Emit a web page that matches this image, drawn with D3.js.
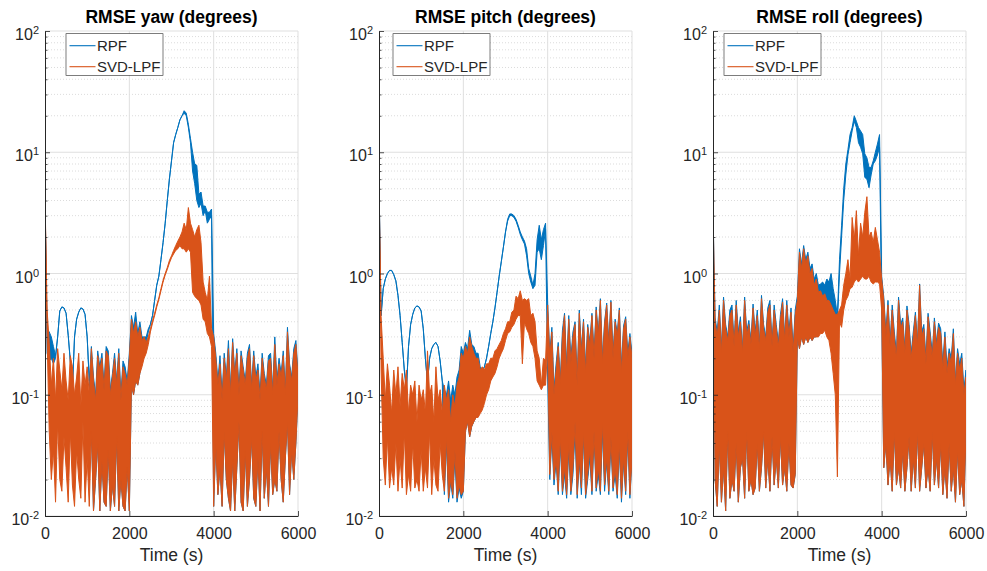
<!DOCTYPE html>
<html>
<head>
<meta charset="utf-8">
<script src="https://cdn.jsdelivr.net/npm/d3@7"></script>
<style>
body { margin: 0; background: #fff; }
text { font-family: "Liberation Sans", Arial, Helvetica, sans-serif; fill: #262626; }
</style>
</head>
<body>
<script>
// sample times (s), one pair of values every 50 s
var times = d3.range(0, 6001, 50);

var titles = ["RMSE yaw (degrees)", "RMSE pitch (degrees)", "RMSE roll (degrees)"];
var seriesNames = ["RPF", "SVD-LPF"];
var colors = ["#0072BD", "#D95319"];
var xTicks = [0, 2000, 4000, 6000];
var yTicks = [0.01, 0.1, 1, 10, 100];
var yTickExp = ["-2", "-1", "0", "1", "2"];

// upper and lower edge of each (noisy) trace, 500 s per row
var yawRPFHi = [
  4.3, 0.35, 0.33, 0.3, 0.25, 0.21, 0.3, 0.49, 0.53, 0.52,
  0.47, 0.31, 0.19, 0.11, 0.3, 0.42, 0.48, 0.52, 0.51, 0.46,
  0.3, 0.13, 0.25, 0.14, 0.1, 0.23, 0.17, 0.22, 0.12, 0.25,
  0.23, 0.11, 0.15, 0.22, 0.13, 0.24, 0.1, 0.19, 0.17, 0.13,
  0.22, 0.45, 0.36, 0.48, 0.32, 0.4, 0.3, 0.3, 0.3, 0.35,
  0.38, 0.45, 0.6, 0.8, 0.95, 1.3, 1.8, 2.6, 4.0, 6.0,
  8.5, 12, 14, 16, 18.5, 20, 22, 21, 17, 13,
  10, 8, 7.8, 4.5, 4.7, 3.6, 3.6, 3.2, 3.2, 3.4,
  0.32, 0.22, 0.13, 0.21, 0.1, 0.22, 0.14, 0.28, 0.11, 0.29,
  0.15, 0.24, 0.11, 0.23, 0.17, 0.13, 0.22, 0.26, 0.12, 0.23,
  0.14, 0.18, 0.1, 0.22, 0.15, 0.12, 0.21, 0.22, 0.11, 0.3,
  0.13, 0.2, 0.15, 0.23, 0.11, 0.36, 0.18, 0.14, 0.24, 0.28,
  0.15
];
var yawRPFLo = [
  4.3, 0.22, 0.19, 0.2, 0.18, 0.2, 0.3, 0.49, 0.53, 0.52,
  0.47, 0.31, 0.19, 0.11, 0.3, 0.42, 0.48, 0.52, 0.51, 0.46,
  0.3, 0.13, 0.05, 0.011, 0.02, 0.04, 0.011, 0.028, 0.013, 0.012,
  0.035, 0.011, 0.018, 0.012, 0.045, 0.011, 0.02, 0.012, 0.011, 0.025,
  0.011, 0.12, 0.1, 0.13, 0.12, 0.15, 0.2, 0.24, 0.27, 0.33,
  0.38, 0.45, 0.6, 0.8, 0.95, 1.3, 1.8, 2.6, 4.0, 6.0,
  8.5, 12, 14, 16, 18.5, 20, 21, 20, 16, 12,
  7, 5.5, 4, 3.5, 3.8, 3.0, 3.3, 2.6, 2.8, 3.0,
  0.012, 0.04, 0.015, 0.025, 0.012, 0.05, 0.02, 0.014, 0.011, 0.03,
  0.011, 0.025, 0.06, 0.013, 0.011, 0.035, 0.012, 0.02, 0.045, 0.014,
  0.012, 0.03, 0.011, 0.05, 0.014, 0.025, 0.012, 0.04, 0.015, 0.02,
  0.016, 0.05, 0.02, 0.013, 0.03, 0.06, 0.015, 0.035, 0.02, 0.04,
  0.1
];
var yawSVDHi = [
  4.3, 0.5, 0.27, 0.12, 0.2, 0.09, 0.24, 0.16, 0.11, 0.22,
  0.13, 0.09, 0.21, 0.17, 0.1, 0.14, 0.22, 0.08, 0.19, 0.12,
  0.17, 0.1, 0.24, 0.13, 0.09, 0.21, 0.16, 0.2, 0.11, 0.23,
  0.21, 0.1, 0.14, 0.2, 0.12, 0.22, 0.09, 0.17, 0.15, 0.12,
  0.2, 0.42, 0.32, 0.4, 0.3, 0.36, 0.28, 0.3, 0.27, 0.3,
  0.35, 0.41, 0.47, 0.55, 0.63, 0.75, 0.88, 1.0, 1.12, 1.28,
  1.4, 1.55, 1.7, 1.85, 2.0, 2.2, 2.6, 2.3, 3.5, 2.6,
  2.3, 2.0, 2.3, 2.5, 1.8, 0.85, 0.7, 0.6, 0.95, 0.35,
  0.3, 0.2, 0.12, 0.18, 0.09, 0.2, 0.13, 0.24, 0.1, 0.27,
  0.14, 0.22, 0.1, 0.21, 0.16, 0.12, 0.2, 0.24, 0.11, 0.21,
  0.13, 0.16, 0.09, 0.2, 0.14, 0.11, 0.19, 0.2, 0.1, 0.26,
  0.12, 0.18, 0.14, 0.21, 0.1, 0.33, 0.17, 0.13, 0.22, 0.26,
  0.14
];
var yawSVDLo = [
  4.3, 0.3, 0.05, 0.02, 0.035, 0.013, 0.06, 0.02, 0.016, 0.045,
  0.025, 0.013, 0.05, 0.018, 0.012, 0.035, 0.02, 0.014, 0.06, 0.013,
  0.03, 0.012, 0.05, 0.011, 0.02, 0.04, 0.011, 0.028, 0.013, 0.012,
  0.035, 0.011, 0.018, 0.012, 0.045, 0.011, 0.02, 0.012, 0.011, 0.025,
  0.011, 0.12, 0.1, 0.13, 0.12, 0.15, 0.17, 0.2, 0.22, 0.26,
  0.33, 0.39, 0.45, 0.53, 0.61, 0.72, 0.85, 0.97, 1.08, 1.22,
  1.35, 1.45, 1.55, 1.6, 1.7, 1.6, 1.6, 1.5, 1.6, 1.5,
  0.7, 0.65, 0.62, 0.6, 0.55, 0.42, 0.4, 0.32, 0.3, 0.25,
  0.012, 0.04, 0.015, 0.025, 0.012, 0.05, 0.02, 0.014, 0.011, 0.03,
  0.011, 0.025, 0.06, 0.013, 0.011, 0.035, 0.012, 0.02, 0.045, 0.014,
  0.012, 0.03, 0.011, 0.05, 0.014, 0.025, 0.012, 0.04, 0.015, 0.02,
  0.016, 0.05, 0.02, 0.013, 0.03, 0.06, 0.015, 0.035, 0.02, 0.04,
  0.1
];

var pitchRPFHi = [
  5.7, 0.45, 0.75, 0.9, 1.0, 1.06, 1.06, 0.98, 0.87, 0.66,
  0.45, 0.27, 0.16, 0.11, 0.25, 0.38, 0.46, 0.52, 0.54, 0.53,
  0.49, 0.35, 0.2, 0.125, 0.2, 0.24, 0.26, 0.27, 0.25, 0.19,
  0.13, 0.11, 0.1, 0.13, 0.09, 0.12, 0.1, 0.14, 0.16, 0.25,
  0.22, 0.27, 0.24, 0.34, 0.26, 0.25, 0.22, 0.22, 0.17, 0.16,
  0.17, 0.2, 0.25, 0.32, 0.4, 0.52, 0.7, 0.95, 1.25, 1.65,
  2.2, 2.8, 3.1, 3.1, 3.0, 2.8, 2.5, 2.2, 2.0, 1.85,
  1.6, 1.1, 0.95, 0.8, 1.0, 1.9, 2.5, 1.9, 2.3, 2.6,
  0.57, 0.22, 0.36, 0.11, 0.18, 0.27, 0.13, 0.34, 0.47, 0.17,
  0.45, 0.2, 0.33, 0.4, 0.13, 0.5, 0.24, 0.42, 0.17, 0.38,
  0.27, 0.47, 0.22, 0.53, 0.32, 0.62, 0.2, 0.4, 0.57, 0.27,
  0.6, 0.22, 0.42, 0.32, 0.52, 0.17, 0.37, 0.44, 0.22, 0.32,
  0.22
];
var pitchRPFLo = [
  5.7, 0.45, 0.75, 0.9, 1.0, 1.06, 1.06, 0.98, 0.87, 0.66,
  0.45, 0.27, 0.16, 0.11, 0.25, 0.38, 0.46, 0.52, 0.54, 0.53,
  0.49, 0.35, 0.2, 0.125, 0.2, 0.24, 0.26, 0.27, 0.25, 0.19,
  0.13, 0.015, 0.04, 0.013, 0.019, 0.014, 0.03, 0.013, 0.017, 0.014,
  0.016, 0.05, 0.06, 0.045, 0.055, 0.06, 0.065, 0.1, 0.15, 0.15,
  0.17, 0.2, 0.25, 0.32, 0.4, 0.52, 0.7, 0.95, 1.25, 1.65,
  2.2, 2.7, 3.0, 3.0, 2.9, 2.7, 2.4, 2.1, 1.9, 1.75,
  1.4, 1.0, 0.85, 0.75, 0.8, 1.5, 1.6, 1.3, 1.7, 2.3,
  0.14, 0.02, 0.045, 0.018, 0.028, 0.015, 0.04, 0.015, 0.022, 0.014,
  0.035, 0.015, 0.022, 0.05, 0.014, 0.028, 0.015, 0.045, 0.014, 0.02,
  0.03, 0.015, 0.045, 0.016, 0.022, 0.015, 0.05, 0.016, 0.028, 0.015,
  0.04, 0.016, 0.022, 0.014, 0.035, 0.013, 0.028, 0.015, 0.045, 0.014,
  0.03
];
var pitchSVDHi = [
  5.7, 0.44, 0.2, 0.09, 0.18, 0.12, 0.07, 0.16, 0.1, 0.17,
  0.08, 0.15, 0.11, 0.16, 0.07, 0.12, 0.1, 0.13, 0.06, 0.12,
  0.09, 0.11, 0.07, 0.23, 0.1, 0.12, 0.06, 0.17, 0.09, 0.11,
  0.07, 0.12, 0.09, 0.11, 0.06, 0.1, 0.08, 0.12, 0.14, 0.22,
  0.2, 0.25, 0.22, 0.3, 0.25, 0.22, 0.2, 0.2, 0.16, 0.17,
  0.16, 0.18, 0.18, 0.2, 0.2, 0.23, 0.24, 0.26, 0.28, 0.32,
  0.35, 0.4, 0.4, 0.48, 0.5, 0.65, 0.62, 0.72, 0.6, 0.62,
  0.6, 0.62, 0.45, 0.47, 0.4, 0.23, 0.2, 0.12, 0.2, 0.19,
  0.55, 0.2, 0.33, 0.1, 0.16, 0.25, 0.12, 0.3, 0.45, 0.15,
  0.42, 0.18, 0.3, 0.38, 0.12, 0.47, 0.22, 0.4, 0.15, 0.36,
  0.25, 0.45, 0.2, 0.5, 0.3, 0.6, 0.18, 0.38, 0.55, 0.25,
  0.58, 0.2, 0.4, 0.3, 0.5, 0.15, 0.35, 0.42, 0.2, 0.3,
  0.2
];
var pitchSVDLo = [
  5.7, 0.16, 0.03, 0.018, 0.045, 0.017, 0.025, 0.018, 0.04, 0.016,
  0.03, 0.017, 0.05, 0.015, 0.022, 0.016, 0.04, 0.017, 0.02, 0.016,
  0.035, 0.016, 0.025, 0.017, 0.05, 0.015, 0.03, 0.018, 0.016, 0.04,
  0.022, 0.016, 0.045, 0.014, 0.02, 0.015, 0.035, 0.014, 0.018, 0.015,
  0.016, 0.05, 0.06, 0.045, 0.055, 0.06, 0.065, 0.065, 0.07, 0.075,
  0.085, 0.1, 0.11, 0.13, 0.14, 0.15, 0.17, 0.2, 0.22, 0.24,
  0.28, 0.32, 0.33, 0.36, 0.38, 0.42, 0.45, 0.45, 0.18, 0.4,
  0.35, 0.32, 0.27, 0.25, 0.2, 0.13, 0.12, 0.11, 0.12, 0.12,
  0.25, 0.022, 0.05, 0.02, 0.03, 0.016, 0.045, 0.016, 0.025, 0.015,
  0.04, 0.016, 0.025, 0.06, 0.015, 0.03, 0.017, 0.05, 0.015, 0.022,
  0.035, 0.016, 0.05, 0.017, 0.025, 0.016, 0.06, 0.018, 0.03, 0.016,
  0.045, 0.017, 0.025, 0.015, 0.04, 0.014, 0.03, 0.016, 0.05, 0.015,
  0.03
];

var rollRPFHi = [
  3.3, 0.43, 0.33, 0.55, 0.24, 0.64, 0.38, 0.3, 0.5, 0.55,
  0.27, 0.6, 0.33, 0.44, 0.24, 0.64, 0.33, 0.41, 0.28, 0.56,
  0.33, 0.5, 0.26, 0.66, 0.38, 0.3, 0.52, 0.6, 0.27, 0.55,
  0.38, 0.27, 0.46, 0.62, 0.3, 0.6, 0.33, 0.52, 0.24, 0.5,
  0.65, 1.6, 1.2, 1.7, 1.3, 1.5, 1.1, 1.2, 0.9, 1.0,
  0.8, 0.82, 0.85, 0.8, 0.9, 0.85, 1.0, 0.75, 0.6, 0.45,
  1.3, 2.5, 5.0, 8.0, 10.5, 14, 16, 20, 18, 16,
  15, 14, 9.7, 9, 7.5, 7.5, 8.5, 10, 11.7, 14,
  0.95, 0.64, 0.33, 0.6, 0.27, 0.55, 0.33, 0.22, 0.64, 0.38,
  0.43, 0.24, 0.54, 0.38, 0.22, 0.33, 0.48, 0.27, 0.82, 0.33,
  0.38, 0.2, 0.47, 0.33, 0.22, 0.43, 0.27, 0.39, 0.35, 0.18,
  0.33, 0.17, 0.24, 0.2, 0.35, 0.13, 0.24, 0.18, 0.22, 0.11,
  0.16
];
var rollRPFLo = [
  3.3, 0.02, 0.012, 0.04, 0.013, 0.025, 0.011, 0.05, 0.014, 0.02,
  0.016, 0.04, 0.013, 0.025, 0.03, 0.014, 0.05, 0.016, 0.02, 0.015,
  0.017, 0.04, 0.016, 0.025, 0.05, 0.017, 0.03, 0.016, 0.045, 0.018,
  0.03, 0.017, 0.045, 0.018, 0.025, 0.016, 0.04, 0.018, 0.017, 0.022,
  0.3, 0.24, 0.3, 0.26, 0.3, 0.27, 0.3, 0.28, 0.3, 0.3,
  0.45, 0.5, 0.45, 0.5, 0.45, 0.5, 0.45, 0.5, 0.43, 0.4,
  1.0, 2.0, 4.0, 6.5, 9.5, 12, 15, 18, 16, 12,
  11, 9.7, 6.2, 6.0, 5.1, 6.5, 8, 8.5, 9.5, 11,
  0.5, 0.025, 0.04, 0.018, 0.03, 0.016, 0.05, 0.018, 0.025, 0.017,
  0.035, 0.016, 0.025, 0.045, 0.016, 0.03, 0.017, 0.05, 0.016, 0.025,
  0.04, 0.017, 0.025, 0.016, 0.05, 0.018, 0.03, 0.017, 0.04, 0.015,
  0.025, 0.014, 0.04, 0.016, 0.025, 0.013, 0.035, 0.015, 0.02, 0.012,
  0.05
];
var rollSVDHi = [
  3.3, 0.4, 0.3, 0.5, 0.22, 0.6, 0.35, 0.28, 0.45, 0.5,
  0.25, 0.55, 0.3, 0.4, 0.22, 0.6, 0.3, 0.38, 0.26, 0.52,
  0.3, 0.45, 0.24, 0.62, 0.35, 0.28, 0.48, 0.55, 0.25, 0.5,
  0.35, 0.25, 0.42, 0.58, 0.28, 0.55, 0.3, 0.48, 0.22, 0.45,
  0.6, 1.5, 1.1, 1.6, 1.2, 1.4, 1.0, 1.1, 0.8, 0.9,
  0.7, 0.72, 0.65, 0.68, 0.6, 0.6, 0.55, 0.5, 0.46, 0.46,
  0.5, 0.55, 0.8, 1.0, 1.3, 0.9, 2.9, 1.9, 3.3, 1.4,
  2.6, 2.0, 3.2, 4.3, 2.0, 2.2, 1.8, 2.4, 1.9, 1.5,
  0.9, 0.6, 0.3, 0.55, 0.25, 0.5, 0.3, 0.2, 0.6, 0.35,
  0.4, 0.22, 0.5, 0.35, 0.2, 0.3, 0.45, 0.25, 0.8, 0.3,
  0.35, 0.18, 0.44, 0.3, 0.2, 0.4, 0.25, 0.36, 0.32, 0.16,
  0.3, 0.15, 0.22, 0.18, 0.32, 0.12, 0.22, 0.16, 0.2, 0.1,
  0.14
];
var rollSVDLo = [
  3.3, 0.02, 0.012, 0.04, 0.013, 0.025, 0.011, 0.05, 0.014, 0.02,
  0.016, 0.04, 0.013, 0.025, 0.03, 0.014, 0.05, 0.016, 0.02, 0.015,
  0.017, 0.04, 0.016, 0.025, 0.05, 0.017, 0.03, 0.016, 0.045, 0.018,
  0.03, 0.017, 0.045, 0.018, 0.025, 0.016, 0.04, 0.018, 0.017, 0.022,
  0.3, 0.24, 0.3, 0.26, 0.3, 0.27, 0.3, 0.28, 0.3, 0.3,
  0.3, 0.32, 0.32, 0.34, 0.3, 0.28, 0.22, 0.15, 0.1, 0.021,
  0.4, 0.36, 0.5, 0.6, 0.65, 0.75, 0.77, 0.85, 0.9, 0.85,
  0.9, 0.95, 0.9, 0.9, 0.95, 0.85, 0.82, 0.85, 0.85, 0.82,
  0.5, 0.025, 0.04, 0.018, 0.03, 0.016, 0.05, 0.018, 0.025, 0.017,
  0.035, 0.016, 0.025, 0.045, 0.016, 0.03, 0.017, 0.05, 0.016, 0.025,
  0.04, 0.017, 0.025, 0.016, 0.05, 0.018, 0.03, 0.017, 0.04, 0.015,
  0.025, 0.014, 0.04, 0.016, 0.025, 0.013, 0.035, 0.015, 0.02, 0.012,
  0.05
];

var panelSeries = [
  [[yawRPFHi, yawRPFLo], [yawSVDHi, yawSVDLo]],
  [[pitchRPFHi, pitchRPFLo], [pitchSVDHi, pitchSVDLo]],
  [[rollRPFHi, rollRPFLo], [rollSVDHi, rollSVDLo]]
];

var width = 987, height = 571;
var plotLeft = [45, 379, 713];
var plotW = 253, plotTop = 31, plotBottom = 516;
var legendDx = [21, 14, 11];

var svg = d3.select("body").append("svg").attr("width", width).attr("height", height);
svg.append("rect").attr("width", width).attr("height", height).attr("fill", "#fff");

var y = d3.scaleLog().domain([0.01, 100]).range([plotBottom, plotTop]);

// minor tick positions 2..9 in each decade
var minors = [];
yTicks.slice(0, -1).forEach(function(d) {
  for (var k = 2; k < 10; k++) minors.push(d * k);
});

panelSeries.forEach(function(series, p) {
  var L = plotLeft[p];
  var x = d3.scaleLinear().domain([0, 6000]).range([L, L + plotW]);
  var g = svg.append("g");

  svg.append("clipPath").attr("id", "clip" + p)
    .append("rect")
    .attr("x", L).attr("y", plotTop)
    .attr("width", plotW).attr("height", plotBottom - plotTop);

  // grid
  g.selectAll(".mgrid").data(minors).enter().append("line")
    .attr("x1", L).attr("x2", L + plotW)
    .attr("y1", function(d) { return y(d); }).attr("y2", function(d) { return y(d); })
    .attr("stroke", "#c4c4c4").attr("stroke-width", 0.6)
    .attr("stroke-dasharray", "1,2");
  g.selectAll(".ygrid").data(yTicks).enter().append("line")
    .attr("x1", L).attr("x2", L + plotW)
    .attr("y1", function(d) { return y(d); }).attr("y2", function(d) { return y(d); })
    .attr("stroke", "#dfdfdf").attr("stroke-width", 1);
  g.selectAll(".xgrid").data(xTicks.slice(1)).enter().append("line")
    .attr("x1", function(d) { return x(d); }).attr("x2", function(d) { return x(d); })
    .attr("y1", plotTop).attr("y2", plotBottom)
    .attr("stroke", "#dfdfdf").attr("stroke-width", 1);

  // data: band between lower and upper edge of each trace
  series.forEach(function(s, k) {
    var hi = s[0], lo = s[1];
    var area = d3.area()
      .x(function(d, i) { return x(times[i]); })
      .y0(function(d, i) { return y(lo[i]); })
      .y1(function(d, i) { return y(hi[i]); });
    g.append("path")
      .attr("d", area(times))
      .attr("fill", colors[k])
      .attr("stroke", colors[k])
      .attr("stroke-width", 1)
      .attr("stroke-linejoin", "round")
      .attr("clip-path", "url(#clip" + p + ")");
  });

  // x axis
  var xAxis = g.append("g")
    .attr("transform", "translate(0," + plotBottom + ")")
    .call(d3.axisBottom(x).tickValues(xTicks).tickFormat(d3.format("d"))
      .tickSize(-5).tickSizeOuter(0).tickPadding(11.6));
  xAxis.selectAll("text").style("font-size", "16px").attr("fill", "#262626");

  // y axis, minor ticks then major ticks
  var yMinor = g.append("g")
    .attr("transform", "translate(" + L + ",0)")
    .call(d3.axisLeft(y).tickValues(minors).tickSize(-2.5).tickFormat(""));
  yMinor.select(".domain").remove();

  var yAxis = g.append("g")
    .attr("transform", "translate(" + L + ",0)")
    .call(d3.axisLeft(y).tickValues(yTicks).tickSize(-5).tickSizeOuter(0).tickFormat(""));
  yAxis.selectAll(".tick").each(function(d, i) {
    var t = d3.select(this).append("text")
      .attr("x", -6).attr("y", 8.5)
      .attr("text-anchor", "end")
      .style("font-size", "16px")
      .attr("fill", "#262626")
      .text("10");
    t.append("tspan").attr("dy", -6).style("font-size", "11px").text(yTickExp[i]);
  });

  g.selectAll(".domain").attr("stroke", "#262626").attr("stroke-width", 1);
  g.selectAll(".tick line").attr("stroke", "#262626").attr("stroke-width", 0.8);

  // title and label
  g.append("text")
    .attr("x", L + plotW / 2).attr("y", 23.3)
    .attr("text-anchor", "middle")
    .style("font-size", "17.5px").style("font-weight", "bold")
    .style("fill", "#000")
    .text(titles[p]);
  g.append("text")
    .attr("x", L + plotW / 2).attr("y", 560.5)
    .attr("text-anchor", "middle")
    .style("font-size", "17.5px")
    .text("Time (s)");

  // legend
  var lx = L + legendDx[p];
  var leg = g.append("g").attr("transform", "translate(" + lx + ",33.7)");
  leg.append("rect").attr("width", 97).attr("height", 41.6)
    .attr("fill", "#fff").attr("stroke", "#262626").attr("stroke-width", 0.6);
  seriesNames.forEach(function(name, k) {
    var ly = 12 + k * 21;
    leg.append("line")
      .attr("x1", 3.5).attr("x2", 29.5).attr("y1", ly).attr("y2", ly)
      .attr("stroke", colors[k]).attr("stroke-width", 1.1);
    leg.append("text")
      .attr("x", 31).attr("y", ly + 5)
      .style("font-size", "15px")
      .text(name);
  });
});
</script>
</body>
</html>
